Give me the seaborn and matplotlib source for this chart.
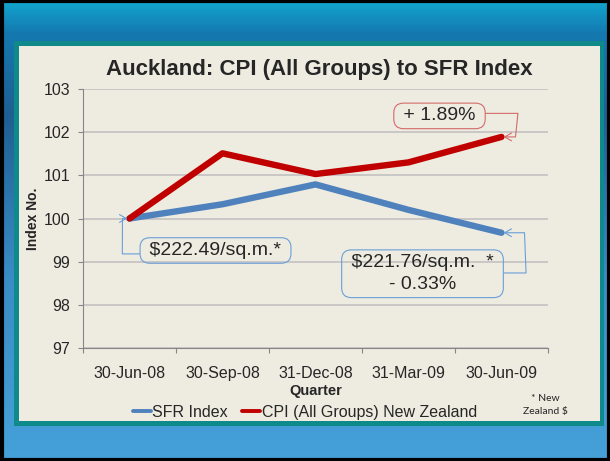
import numpy as np
import pandas as pd
import seaborn as sns
import matplotlib.pyplot as plt
from matplotlib.colors import LinearSegmentedColormap
from matplotlib.lines import Line2D
from matplotlib.patches import Rectangle

quarters = ["30-Jun-08", "30-Sep-08", "31-Dec-08", "31-Mar-09", "30-Jun-09"]
sfr_index = [100.0, 100.33, 100.79, 100.2, 99.67]
cpi_index = [100.0, 101.51, 101.03, 101.3, 101.89]
series_names = ["SFR Index", "CPI (All Groups) New Zealand"]
y_ticks = [97, 98, 99, 100, 101, 102, 103]

sfr_blue = "#4F81BD"
cpi_red = "#C00000"
cream = "#EEECE1"

df = pd.DataFrame({
    "Quarter": quarters * 2,
    "Index No.": sfr_index + cpi_index,
    "Series": [series_names[0]] * len(quarters) + [series_names[1]] * len(quarters),
})

sns.set_style("white")
plt.rcParams["font.family"] = ["Liberation Sans", "DejaVu Sans"]

W, H = 610, 461
fig = plt.figure(figsize=(W / 100, H / 100), dpi=100)

# slide background
bg = fig.add_axes([0, 0, 1, 1], zorder=-10)
bg.set_xlim(0, W)
bg.set_ylim(H, 0)
bg.axis("off")
grad = LinearSegmentedColormap.from_list(
    "slide", [(0, "#12A6CE"), (0.07, "#1479B0"), (0.25, "#1F5F93"), (0.6, "#3A8CC6"), (1, "#46A1D9")])
bg.imshow(np.linspace(0, 1, 200)[:, None], cmap=grad, aspect="auto", extent=(0, W, H, 0))
bg.add_patch(Rectangle((1.5, 1.5), W - 3, H - 3, fill=False, edgecolor="black", lw=3))
bg.add_patch(Rectangle((14, 41), 590, 385, facecolor="#0F8A8A", edgecolor="none"))
bg.add_patch(Rectangle((19, 46), 581, 375, facecolor=cream, edgecolor="none"))

ax = fig.add_axes([83 / W, (H - 348) / H, (548 - 83) / W, (348 - 89) / H])
ax.set_facecolor("none")

sns.lineplot(data=df, x="Quarter", y="Index No.", hue="Series", hue_order=series_names,
             palette=[sfr_blue, cpi_red], lw=4.6, sort=False, legend=False, ax=ax,
             solid_capstyle="round", solid_joinstyle="round")

ax.set_xlim(-0.5, len(quarters) - 0.5)
ax.set_ylim(97, 103)
ax.set_yticks(y_ticks)
ax.set_xticks(range(len(quarters)))
ax.set_xticklabels(quarters)
ax.set_xticks(np.arange(-0.5, len(quarters), 1), minor=True)
ax.grid(axis="y", color="#BEBEBE", lw=1.1)
ax.grid(axis="x", visible=False)
for side in ["top", "right"]:
    ax.spines[side].set_visible(False)
for side in ["left", "bottom"]:
    ax.spines[side].set_color("#868686")
    ax.spines[side].set_linewidth(0.8)
ax.tick_params(axis="y", which="major", length=3.6, width=0.8, color="#868686",
               pad=5.5, labelsize=11.5, left=True)
ax.tick_params(axis="x", which="major", length=0, pad=13, labelsize=11.5)
ax.tick_params(axis="x", which="minor", length=3.6, width=0.8, color="#868686", bottom=True)

ax.set_xlabel("Quarter", fontsize=10.5, fontweight="bold", labelpad=2)
ax.set_ylabel("Index No.", fontsize=10, fontweight="bold", labelpad=3)

fig.text(319 / W, 1 - 69 / H, "Auckland: CPI (All Groups) to SFR Index",
         ha="center", va="center", fontsize=16, fontweight="bold")

# callouts
def callout(text, xi, yv, dx, dy, color, relpos, conn, spacing=1.0):
    ax.annotate(text, xy=(xi, yv), xytext=(dx, dy), textcoords="offset pixels",
                ha="center", va="center", fontsize=14, linespacing=spacing,
                bbox=dict(boxstyle="round,pad=0.22,rounding_size=0.5", fc="none", ec=color, lw=0.8),
                arrowprops=dict(arrowstyle="->,head_length=0.35,head_width=0.2", color=color, lw=0.8,
                                relpos=relpos, shrinkA=0, shrinkB=1.5, connectionstyle=conn))

callout(" $222.49/sq.m.* ", 0, sfr_index[0], 86, -32, "#6A9FD8", (0, 0.3),
        "arc,angleA=180,armA=22,angleB=180,armB=7,rad=0")
callout(" $221.76/sq.m.  * \n- 0.33%", 4, sfr_index[4], -79, -41, "#6A9FD8", (1, 0.52),
        "arc,angleA=0,armA=27,angleB=0,armB=23,rad=0", spacing=1.4)
callout(" + 1.89% ", 4, cpi_index[4], -62, 21, "#D46A6A", (1, 0.65),
        "arc,angleA=0,armA=37,angleB=0,armB=14,rad=0")

handles = [Line2D([], [], color=sfr_blue, lw=2.8), Line2D([], [], color=cpi_red, lw=2.8)]
fig.legend(handles, series_names, loc="center", bbox_to_anchor=(305 / W, 1 - 412 / H),
           ncol=2, frameon=False, fontsize=11.5, handlelength=1.1, handletextpad=0.1,
           columnspacing=0.9)

fig.text(545 / W, 1 - 405 / H, "* New\nZealand $", ha="center", va="center",
         fontsize=7.5, linespacing=1.7, family=["Lato", "DejaVu Sans"])

fig.savefig("out.png", dpi=100)
